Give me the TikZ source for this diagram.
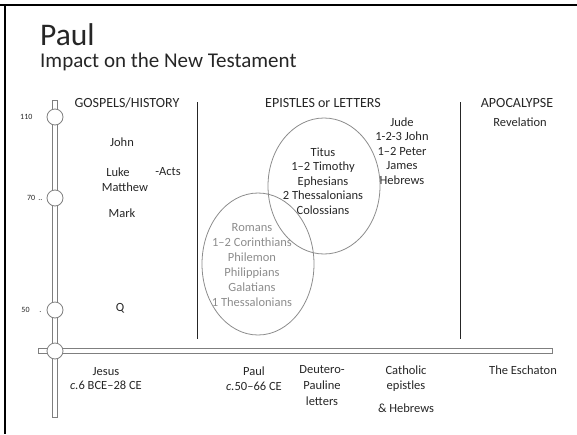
\documentclass[tikz,border=0pt]{standalone}
\usepackage{fontspec}
\setmainfont{Carlito}
\usetikzlibrary{positioning,shapes.geometric}
\definecolor{bargray}{HTML}{7F7F7F}
\definecolor{ringgray}{HTML}{8C8C8C}

\begin{document}
\begin{tikzpicture}[
			x=1pt, y=-1pt,
			every node/.style={font={\fontsize{12.5}{14.5}\selectfont}, text=black!85, inner sep=0pt, align=center},
			heading/.style={font={\fontsize{14}{16}\selectfont}},
			tick/.style={circle, draw=bargray, fill=white, line width=0.8pt, minimum size=16pt},
			bar/.style={draw=bargray, fill=white, line width=0.8pt},
			year/.style={font={\fontsize{8}{9}\selectfont}},
			divider/.style={draw=black!85, line width=0.9pt},
			group/.style={ellipse, draw=ringgray, line width=0.8pt, minimum width=112pt, minimum height=136pt},
			faint/.style={text=ringgray, font={\fontsize{12.5}{15}\selectfont}}
	]
	\useasboundingbox (0,0) rectangle (577,434);
	\draw[line width=2pt] (0,5) -- (577,5);
	\draw[line width=2pt] (5,5) -- (5,434);
	\node[anchor=base west, font={\fontsize{31.5}{36}\selectfont}] (title) at (40,45) {Paul};
	\node[anchor=base west, font={\fontsize{21}{25}\selectfont}] (subtitle) at (40,67) {Impact on the New Testament};
% >> timeline
	\draw[bar] (52.5,100) rectangle (57.5,417);
	\draw[bar] (38,348.5) rectangle (552,353.5);
	\node[tick] (t110) at (55,117) {};
	\node[tick] (t70) at (55,198) {};
	\node[tick] (t50) at (55,310) {};
	\node[tick] (t0) at (55,351) {};
	\node[year, left=14pt of t110] (y110) {110};
	\node[year, left=4pt of t70] (y70) {70 \,..};
	\node[year, left=5pt of t50] (y50) {50 \quad .};
% >> columns
	\coordinate (d1top) at (197,102);
	\coordinate (d1bot) at (197,339);
	\coordinate (d2top) at (460,102);
	\coordinate (d2bot) at (460,339);
	\draw[divider] (d1top) -- (d1bot);
	\draw[divider] (d2top) -- (d2bot);
	\node[heading] (gospels) at (127,103) {GOSPELS/HISTORY};
	\node (john) at (122,142) {John};
	\node (luke) at (118,172) {Luke};
	\node (acts) at (168,172) {-Acts};
	\node (matthew) at (125,187) {Matthew};
	\node (mark) at (122,213) {Mark};
	\node (q) at (120,308) {Q};
	\node[heading] (epistles) at (323,103) {EPISTLES or LETTERS};
	\node[heading] (apocalypse) at (517,103) {APOCALYPSE};
	\node (revelation) at (520,122) {Revelation};
	\node (catholiclist) at (402,151) {Jude\\1-2-3 John\\1–2 Peter\\James\\Hebrews};
	\node[group] (deutero) at (324,186) {};
	\node[group, minimum height=142pt] (undisputed) at (258,264) {};
	\node (deuterolist) at (323,181) {Titus\\1–2 Timothy\\Ephesians\\2 Thessalonians\\Colossians};
	\node[faint] (undisputedlist) at (252,265) {Romans\\1–2 Corinthians\\Philemon\\Philippians\\Galatians\\1 Thessalonians};
% >> under the line
	\node (jesus) at (106,378.5) {Jesus\\\textit{c.}6 BCE–28 CE};
	\node (paul) at (254,378.5) {Paul\\\textit{c.}50–66 CE};
	\node (deuteropauline) at (322,386) {Deutero-\\[1.5pt]Pauline\\[1.5pt]letters};
	\node (catholic) at (406,378.5) {Catholic\\epistles};
	\node (hebrews) at (406,408) {\& Hebrews};
	\node (eschaton) at (523,370) {The Eschaton};
\end{tikzpicture}
\end{document}
